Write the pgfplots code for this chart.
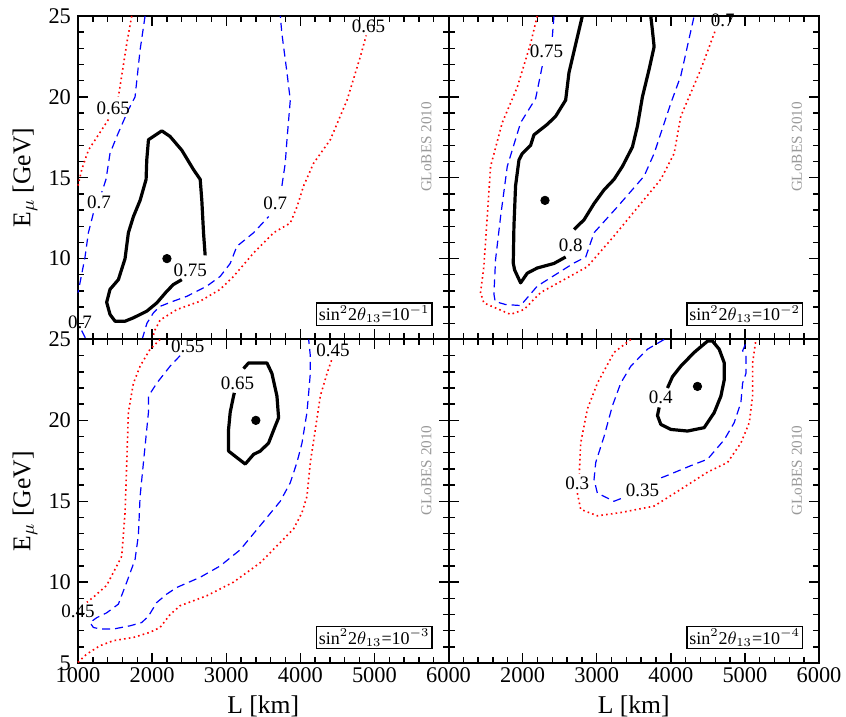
\documentclass[border=0pt]{standalone}
\usepackage{pgfplots}
\pgfplotsset{compat=1.18}
\usepackage{fontspec}
\setmainfont{Liberation Serif}

\pgfplotsset{
  panel/.style={
    scale only axis, width=185.25pt, height=161.75pt,
    xmin=1000,xmax=6000,ymin=5,ymax=25,
    xtick={1000,2000,...,6000}, ytick={5,10,...,25},
    minor x tick num=4, minor y tick num=4,
    tick align=inside, major tick length=5pt, minor tick length=3pt,
    axis line style={line width=1pt},
    every tick/.style={black, line width=0.7pt},
    tick label style={font=\fontsize{11.2}{13}\selectfont},
    xticklabel style={yshift=1pt},
    /pgf/number format/assume math mode=true,
    /pgf/number format/1000 sep={},
    label style={font=\fontsize{12.8}{14}\selectfont},
    ylabel style={at={(axis description cs:-0.143,0.5)}, anchor=center},
    xlabel style={at={(axis description cs:0.5,-0.135)}, anchor=center},
    clip=false,
  },
  c1/.style={black, line width=1.6pt, line join=round},
  c2/.style={blue, line width=0.6pt, dash pattern=on 4pt off 2.5pt},
  c3/.style={red, line width=0.8pt, dash pattern=on 0.8pt off 1.6pt},
  dot/.style={only marks, mark=*, mark size=2.1pt, black},
}
\newcommand{\clab}[3]{\node[font=\fontsize{9.5}{10}\selectfont, inner sep=0pt] at (axis cs:#1,#2) {#3};}
\newcommand{\globes}{\node[rotate=90, text=black!40, font=\fontsize{7.6}{9}\selectfont] at (axis cs:5700,16.9) {GL\textsc{o}BES 2010};}
\newcommand{\thbox}[1]{\node[draw, line width=0.6pt, inner sep=1.2pt, anchor=south east, font=\fontsize{9}{10}\selectfont] at (axis cs:5785,5.85) {sin$^2$2$\theta_{13}$=10$^{#1}$};}

\begin{document}
\begin{tikzpicture}
% Top-left
\begin{axis}[panel, at={(0,161.75pt)}, anchor=south west,
  xticklabels={}, yticklabels={,10,15,20,25}, ylabel={E$_\mu$ [GeV]}]
\addplot[c1] coordinates {(2716,10.2)(2694,11.6)(2671,13.6)(2649,14.9)(2559,15.5)(2401,16.7)(2243,17.55)(2131,17.9)(1951,17.35)(1928,16.1)(1919,14.9)(1838,13.6)(1748,12.6)(1680,11.6)(1635,10.0)(1545,8.7)(1432,8.1)(1387,7.3)(1432,6.55)(1500,6.13)(1635,6.13)(1748,6.34)(1928,6.75)(2063,7.26)(2198,7.98)(2288,8.4)(2401,8.7)};
\addplot[c2] coordinates {(1905,25)(1838,22.9)(1770,20.0)(1680,19.2)(1523,17.55)(1432,16.5)(1378,14.9)(1320,14.1)};
\addplot[c2] coordinates {(1207,12.8)(1140,11.6)(1095,10.1)(1027,8.5)(1000,7.9)};
\addplot[c2] coordinates {(1050,5.55)(1110,5.0)};
\addplot[c2] coordinates {(1865,5)(1930,6.0)(2018,6.65)(2108,7.05)(2288,7.37)(2469,7.67)(2739,8.3)(2919,8.9)(3054,9.7)(3144,10.76)(3370,11.6)(3573,12.6)};
\addplot[c2] coordinates {(3752,14.5)(3797,15.9)(3820,17.35)(3865,19.8)(3820,21.5)(3752,23.9)(3730,25)};
\addplot[c3] coordinates {(1725,25)(1658,23.3)(1590,21.3)(1545,20.0)};
\addplot[c3] coordinates {(1410,18.6)(1297,17.8)(1140,16.7)(1050,15.5)(1000,14.5)};
\addplot[c3] coordinates {(2000,5.0)(2040,5.6)(2108,6.2)(2333,6.85)(2649,7.37)(2919,8.1)(3099,8.9)(3370,10.35)(3640,11.6)(3865,12.2)(3955,13.2)(4045,14.5)(4180,15.9)(4405,17.35)(4631,19.8)(4811,22.5)(4890,23.8)};
\addplot[dot] coordinates {(2200,10)};
\clab{1477}{19.3}{0.65}
\clab{1284}{13.5}{0.7}
\clab{2514}{9.3}{0.75}
\clab{3662}{13.4}{0.7}
\clab{4920}{24.35}{0.65}
\clab{1027}{6.05}{0.7}
\globes
\thbox{-1}
\end{axis}
% Top-right
\begin{axis}[panel, at={(185.25pt,161.75pt)}, anchor=south west,
  xticklabels={}, yticklabels={}]
\addplot[c1] coordinates {(2806,25)(2739,23.7)(2626,21.5)(2581,19.8)(2446,18.8)(2333,18.3)(2153,17.65)(2108,17.0)(1996,16.5)(1951,16.1)(1905,14.5)(1883,12.0)(1874,9.73)(1892,9.3)(1973,8.5)(2063,9.1)(2198,9.42)(2423,9.7)(2581,10.1)};
\addplot[c1] coordinates {(2694,11.8)(2829,12.4)(2964,13.4)(3099,14.25)(3234,14.9)(3347,15.7)(3482,16.9)(3550,18.2)(3617,20.0)(3707,21.7)(3775,23.1)(3752,24.1)(3730,25)};
\addplot[c2] coordinates {(2423,25)(2401,23.7)};
\addplot[c2] coordinates {(2265,21.9)(2176,19.9)(1973,18.4)(1793,15.7)(1703,12.6)(1635,9.94)(1613,7.8)(1630,7.35)(1770,7.16)(1973,7.1)(2198,8.3)(2694,9.73)(2852,10.1)(2964,11.6)(3279,13.2)(3640,15.1)(3775,16.5)(4000,19.6)(4135,21.3)(4315,25)};
\addplot[c3] coordinates {(2198,25)(2108,23.3)(1928,20.6)(1725,18.4)(1568,15.7)(1523,12.6)(1477,9.5)(1432,7.9)(1477,7.26)(1838,6.55)(2018,6.85)(2243,7.9)(2874,9.5)(3234,11.4)(3865,14.9)(4045,16.5)(4135,18.8)(4405,21.7)(4600,24.1)};
\addplot[dot] coordinates {(2302,13.6)};
\clab{2649}{10.8}{0.8}
\clab{2324}{22.8}{0.75}
\clab{4700}{24.75}{0.7}
\globes
\thbox{-2}
\end{axis}
% Bottom-left
\begin{axis}[panel, at={(0,0)}, anchor=south west,
  xlabel={L [km]}, ylabel={E$_\mu$ [GeV]}]
\addplot[c3] coordinates {(2108,25)(1973,24.4)(1838,23.35)(1748,22.3)(1680,20.5)(1658,17.4)(1635,14.3)(1590,11.6)(1523,11.0)(1387,9.8)(1230,9.16)(1120,8.75)};
\addplot[c3] coordinates {(1000,5.04)(1117,5.55)(1297,6.07)(1477,6.38)(1748,6.58)(1973,6.9)(2108,7.2)(2243,8.0)(2378,8.54)(2739,9.16)(3099,10.0)(3460,11.2)(3730,12.45)(3910,13.3)(4023,14.3)(4090,15.3)(4135,17.4)(4203,19.45)(4270,21.5)(4360,22.9)(4428,23.8)};
\addplot[c2] coordinates {(2378,24.0)(2243,23.35)(2063,22.3)(1951,21.5)(1951,20.5)(1905,18.4)(1838,15.3)(1815,12.9)(1770,11.4)(1658,10.0)(1545,8.64)(1387,8.1)(1252,7.8)(1162,7.5)(1207,7.2)(1297,7.1)(1477,7.1)(1703,7.3)(1860,7.5)(1951,7.9)(2063,8.74)(2198,9.26)(2333,9.67)(2649,10.3)(2919,11.0)(3189,12.0)(3460,13.5)(3730,15.0)(3865,16.15)(3955,17.4)(4023,18.6)(4090,20.5)(4113,21.7)(4135,22.9)(4135,24.0)(4113,25)};
\addplot[c1] coordinates {(3234,23.2)(3302,23.55)(3550,23.55)(3617,22.9)(3685,21.5)(3707,20.16)(3662,19.65)(3572,18.6)(3460,18.1)(3370,17.9)(3257,17.3)(3144,17.7)(3032,18.1)(3032,19.44)(3054,20.5)(3099,21.5)(3110,21.7)};
\addplot[dot] coordinates {(3400,20)};
\clab{3153}{22.3}{0.65}
\clab{2480}{24.6}{0.55}
\clab{4440}{24.35}{0.45}
\clab{1000}{8.2}{0.45}
\globes
\thbox{-3}
\end{axis}
% Bottom-right
\begin{axis}[panel, at={(185.25pt,0)}, anchor=south west,
  xlabel={L [km]}, yticklabels={}, xticklabels={,2000,3000,4000,5000,6000}]
\addplot[c1] coordinates {(3955,22.0)(4023,22.7)(4135,23.35)(4315,24.2)(4496,24.9)(4563,24.9)(4653,24.4)(4721,23.56)(4721,22.5)(4676,21.5)(4585,20.47)(4450,19.55)(4225,19.34)(4000,19.44)(3865,19.75)(3820,20.3)(3843,20.8)};
\addplot[c2] coordinates {(3910,25)(3685,24.4)(3460,23.35)(3324,22.3)(3212,20.9)(3099,19.0)(2987,17.4)(2964,16.35)(3009,15.5)(3234,15.0)(3347,15.2)};
\addplot[c2] coordinates {(3870,16.45)(3955,16.6)(4270,17.2)(4496,17.6)(4721,18.8)(4856,19.86)(4946,21.1)(4969,22.3)(5014,22.9)(5014,24.0)(4969,24.3)(5036,25)};
\addplot[c3] coordinates {(3460,25)(3234,24.2)(3009,22.3)(2874,20.7)(2784,18.6)(2765,16.7)};
\addplot[c3] coordinates {(2739,15.5)(2784,14.5)(3009,14.1)(3324,14.3)(3775,14.7)(4135,15.74)(4496,16.8)(4766,17.4)(4946,18.6)(5059,19.86)(5104,21.5)(5104,23.56)(5149,25)};
\addplot[dot] coordinates {(4360,22.1)};
\clab{3865}{21.4}{0.4}
\clab{3617}{15.7}{0.35}
\clab{2739}{16.1}{0.3}
\globes
\thbox{-4}
\end{axis}
\pgfresetboundingbox
\path (-39pt,-27pt) rectangle (384pt,331.5pt);
\end{tikzpicture}
\end{document}
